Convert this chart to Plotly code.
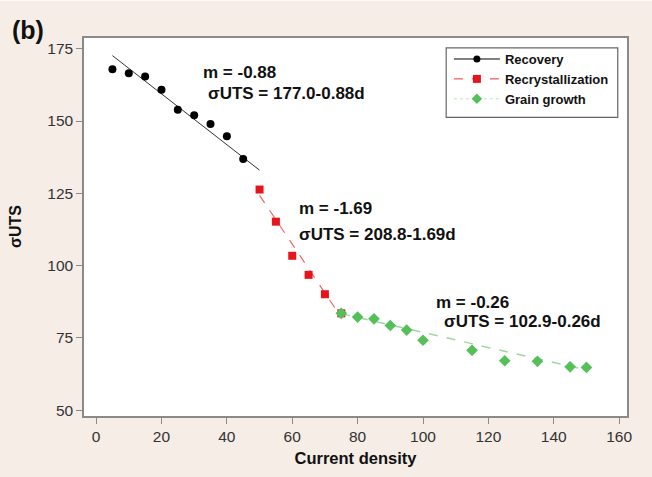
import plotly.graph_objects as go

# ---- data ----
rec_x = [5, 10, 15, 20, 25, 30, 35, 40, 45]
rec_y = [167.9, 166.5, 165.4, 160.8, 153.9, 152.0, 149.0, 144.7, 136.9]

rex_x = [50, 55, 60, 65, 70, 75]
rex_y = [126.3, 115.2, 103.4, 96.8, 90.1, 83.5]

gg_x = [75, 80, 85, 90, 95, 100, 115, 125, 135, 145, 150]
gg_y = [83.5, 82.2, 81.6, 79.3, 77.7, 74.2, 70.7, 67.1, 66.9, 65.0, 64.8]

# fitted-line end points (from the equations shown in the chart)
fit_rec_x = [5, 50]
fit_rec_y = [172.6, 133.0]
fit_rex_x = [50, 75]
fit_rex_y = [124.3, 82.1]
fit_gg_x = [75, 150]
fit_gg_y = [83.4, 63.9]

series_names = ["Recovery", "Recrystallization", "Grain growth"]
eq_labels = [
    ("m = -0.88", "σUTS = 177.0-0.88d"),
    ("m = -1.69", "σUTS = 208.8-1.69d"),
    ("m = -0.26", "σUTS = 102.9-0.26d"),
]
x_ticks = [0, 20, 40, 60, 80, 100, 120, 140, 160]
y_ticks = [50, 75, 100, 125, 150, 175]

BG = "#f5ede6"
FONT = "Liberation Sans, Arial, sans-serif"

fig = go.Figure()

# fitted lines
fig.add_trace(go.Scatter(x=fit_rec_x, y=fit_rec_y, mode="lines",
                         line=dict(color="#333333", width=1), showlegend=False))
fig.add_trace(go.Scatter(x=fit_rex_x, y=fit_rex_y, mode="lines",
                         line=dict(color="#ee6666", width=1.2, dash="dash"), showlegend=False))
fig.add_trace(go.Scatter(x=fit_gg_x, y=fit_gg_y, mode="lines",
                         line=dict(color="#9fd89f", width=1.5, dash="dash"), showlegend=False))

# data points
fig.add_trace(go.Scatter(x=rec_x, y=rec_y, mode="markers",
                         marker=dict(symbol="circle", size=8, color="#000000"), showlegend=False))
fig.add_trace(go.Scatter(x=rex_x, y=rex_y, mode="markers",
                         marker=dict(symbol="square", size=8, color="#e8141b"), showlegend=False))
fig.add_trace(go.Scatter(x=gg_x, y=gg_y, mode="markers",
                         marker=dict(symbol="diamond", size=9, color="#55c05a"), showlegend=False))

# legend entries
fig.add_trace(go.Scatter(x=[None], y=[None], mode="lines+markers", name=series_names[0],
                         line=dict(color="#000000", width=1),
                         marker=dict(symbol="circle", size=7, color="#000000")))
fig.add_trace(go.Scatter(x=[None], y=[None], mode="lines+markers", name=series_names[1],
                         line=dict(color="#f03030", width=1, dash="dash"),
                         marker=dict(symbol="square", size=8, color="#e8141b")))
fig.add_trace(go.Scatter(x=[None], y=[None], mode="lines+markers", name=series_names[2],
                         line=dict(color="#b8e6b8", width=1, dash="dot"),
                         marker=dict(symbol="diamond", size=8, color="#55c05a")))

annotations = []
eq_pos = [((32.0, 166.8), (33.5, 159.4)),
          ((61.6, 119.6), (61.6, 110.8)),
          ((103.5, 87.4), (105.9, 80.6))]
for (m_txt, e_txt), ((mx, my), (ex, ey)) in zip(eq_labels, eq_pos):
    annotations.append(dict(x=mx, y=my, xref="x", yref="y", text="<b>%s</b>" % m_txt,
                            showarrow=False, xanchor="left", yanchor="middle",
                            font=dict(family=FONT, size=17, color="#111111")))
    annotations.append(dict(x=ex, y=ey, xref="x", yref="y", text="<b>%s</b>" % e_txt,
                            showarrow=False, xanchor="left", yanchor="middle",
                            font=dict(family=FONT, size=17, color="#111111")))

annotations.append(dict(x=-0.127, y=0.50, xref="paper", yref="paper", text="<b>σUTS</b>",
                        textangle=-90, showarrow=False, xanchor="center", yanchor="middle",
                        font=dict(family=FONT, size=16, color="#111111")))
annotations.append(dict(x=-0.136, y=1.02, xref="paper", yref="paper", text="<b>(b)</b>",
                        showarrow=False, xanchor="left", yanchor="middle",
                        font=dict(family=FONT, size=25, color="#111111")))

shapes = [
    dict(type="rect", xref="paper", yref="paper", x0=0.667, x1=0.983, y0=0.790, y1=0.974,
         line=dict(color="#666666", width=1.2), fillcolor="rgba(0,0,0,0)", layer="above"),
    dict(type="rect", xref="paper", yref="paper", x0=-0.3, x1=1.2, y0=1.0987, y1=1.3,
         line=dict(width=0), fillcolor="#ffffff", layer="below"),
]

fig.update_layout(
    width=652, height=477,
    margin=dict(l=84, r=25, t=38, b=54),
    paper_bgcolor=BG, plot_bgcolor="#ffffff",
    font=dict(family=FONT, color="#222222"),
    annotations=annotations,
    shapes=shapes,
    legend=dict(x=0.672, y=0.984, xanchor="left", yanchor="top",
                bgcolor="rgba(0,0,0,0)", borderwidth=0,
                font=dict(family=FONT, size=13, color="#111111", weight="bold"),
                itemwidth=46, tracegroupgap=0),
    xaxis=dict(range=[-3.7, 162.4], tickvals=x_ticks, showgrid=False, zeroline=False,
               showline=True, mirror=True, linecolor="#8a8a8a", linewidth=1.5,
               ticks="outside", ticklen=6, tickcolor="#8a8a8a", tickwidth=1,
               tickfont=dict(family=FONT, size=15.5, color="#333333"),
               title=dict(text="<b>Current density</b>", standoff=8,
                          font=dict(family=FONT, size=16.5, color="#111111"))),
    yaxis=dict(range=[48.0, 178.7], tickvals=y_ticks, showgrid=False, zeroline=False,
               showline=True, mirror=True, linecolor="#8a8a8a", linewidth=1.5,
               ticks="outside", ticklen=6, tickcolor="#8a8a8a", tickwidth=1,
               tickfont=dict(family=FONT, size=15.5, color="#333333")),
)

fig.write_html("out.html")
